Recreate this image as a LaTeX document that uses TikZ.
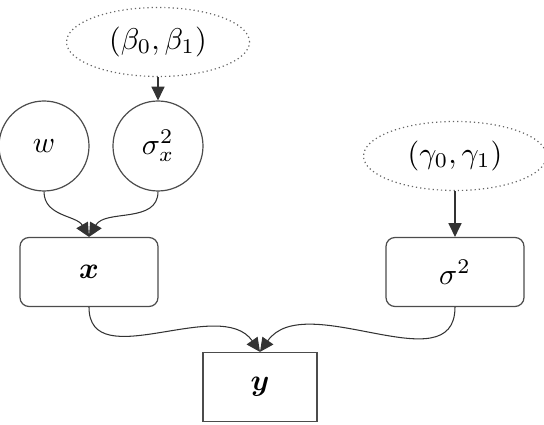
\documentclass[tikz,border=0pt]{standalone}
\usepackage{bm}
\usetikzlibrary{arrows.meta,shapes.geometric}
\tikzset{
  var/.style={draw=black!70, circle, minimum size=30pt, inner sep=0pt},
  hyper/.style={draw=black!60, densely dotted, ellipse, minimum width=61pt, minimum height=23pt, inner sep=0pt},
  rbox/.style={draw=black!70, rounded corners=3pt, minimum width=46pt, minimum height=23pt},
  obs/.style={draw=black!70, minimum width=38pt, minimum height=23pt},
  link/.style={draw=black!80, line width=0.35pt, -{Triangle[length=4.6pt,width=4.4pt]}}
}
\begin{document}
\begin{tikzpicture}[x=0.3333pt,y=-0.3333pt]
\useasboundingbox (0,0) rectangle (544,425);

% nodes
\node[hyper] (beta) at (158,42) {$(\beta_0,\beta_1)$};
\node[hyper] (gamma) at (455,156) {$(\gamma_0,\gamma_1)$};
\node[var] (w) at (44,146) {$w$};
\node[var] (sigx) at (158,146) {$\sigma_x^2$};
\node[rbox] (x) at (89,272) {$\bm{x}$};
\node[rbox] (sig) at (455,272) {$\sigma^2$};
\node[obs] (y) at (260,387) {$\bm{y}$};

% edges
\draw[link] (beta) -- (sigx);
\draw[link] (gamma) -- (sig);
\draw[link] (w.south) to[out=-90,in=120] (x.north);
\draw[link] (sigx.south) to[out=-90,in=60] (x.north);
\draw[link] (x.south) to[out=-90,in=125] (y.north);
\draw[link] (sig.south) to[out=-90,in=55] (y.north);

\end{tikzpicture}
\end{document}
